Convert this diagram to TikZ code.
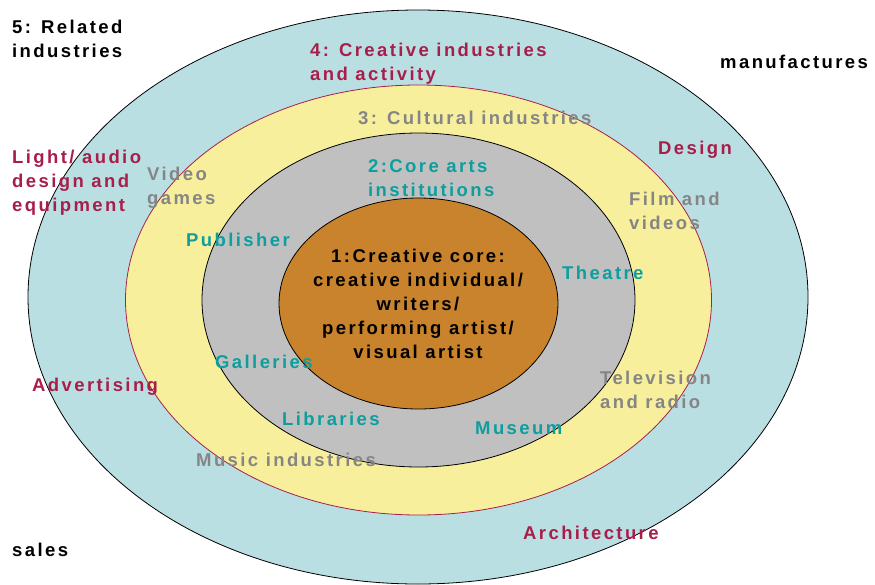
\documentclass[tikz,border=0pt]{standalone}
\usepackage{fontspec}
\setmainfont{Liberation Sans}[LetterSpace=13]

\definecolor{ringblue}{HTML}{BADFE3}
\definecolor{ringyellow}{HTML}{F8EF9C}
\definecolor{ringgray}{HTML}{C0C0C0}
\definecolor{ringcore}{HTML}{C8832C}
\definecolor{lblred}{HTML}{A81E4A}
\definecolor{lblteal}{HTML}{0E9E9E}
\definecolor{lblgray}{HTML}{858585}

\tikzset{
  ring/.style={draw=black, line width=0.8pt},
  lbl/.style={anchor=west, inner sep=0pt, align=left,
    font={\fontsize{18.5}{24}\selectfont\bfseries}},
}

\begin{document}
\begin{tikzpicture}[x=1pt, y=-1pt]

\useasboundingbox (0,0) rectangle (875,584);

% the four rings, outside in
\draw [ring, fill=ringblue] (418,297) ellipse [x radius=390, y radius=287];
\draw [ring, draw=lblred, fill=ringyellow] (418.5,300) ellipse [x radius=293, y radius=215];
\draw [ring, fill=ringgray] (418.5,300) ellipse [x radius=216.5, y radius=167];
\draw [ring, fill=ringcore] (418.5,303.5) ellipse [x radius=139.5, y radius=105.5];

% ring titles
\node [lbl] (related) at (12,39) {5: Related\\industries};
\node [lbl, text=lblred] (creative) at (310,64) {4: Creative industries\\and activity};
\node [lbl, text=lblgray] (cultural) at (358,118) {3: Cultural industries};
\node [lbl, text=lblteal] (corearts) at (368,178) {2:Core arts\\institutions};
\node [lbl, anchor=center, align=center] (core) at (418,304)
  {1:Creative core:\\creative individual/\\writers/\\performing artist/\\visual artist};

% related industries
\node [lbl] (manuf) at (720,62) {manufactures};
\node [lbl] (sales) at (12,550) {sales};

% creative industries
\node [lbl, text=lblred] (design) at (658,150) {Design};
\node [lbl, text=lblred] (light) at (12,183) {Light/ audio\\design and\\equipment};
\node [lbl, text=lblred] (advert) at (32,387) {Advertising};
\node [lbl, text=lblred] (archi) at (523,533) {Architecture};

% cultural industries
\node [lbl, text=lblgray] (video) at (147,188) {Video\\games};
\node [lbl, text=lblgray] (film) at (629,211) {Film and\\videos};
\node [lbl, text=lblgray] (tv) at (600,390) {Television\\and radio};
\node [lbl, text=lblgray] (music) at (196,460) {Music industries};

% core arts institutions
\node [lbl, text=lblteal] (publisher) at (186,240) {Publisher};
\node [lbl, text=lblteal] (theatre) at (562,273) {Theatre};
\node [lbl, text=lblteal] (galleries) at (215,362) {Galleries};
\node [lbl, text=lblteal] (libraries) at (282,419) {Libraries};
\node [lbl, text=lblteal] (museum) at (475,428) {Museum};

\end{tikzpicture}
\end{document}
